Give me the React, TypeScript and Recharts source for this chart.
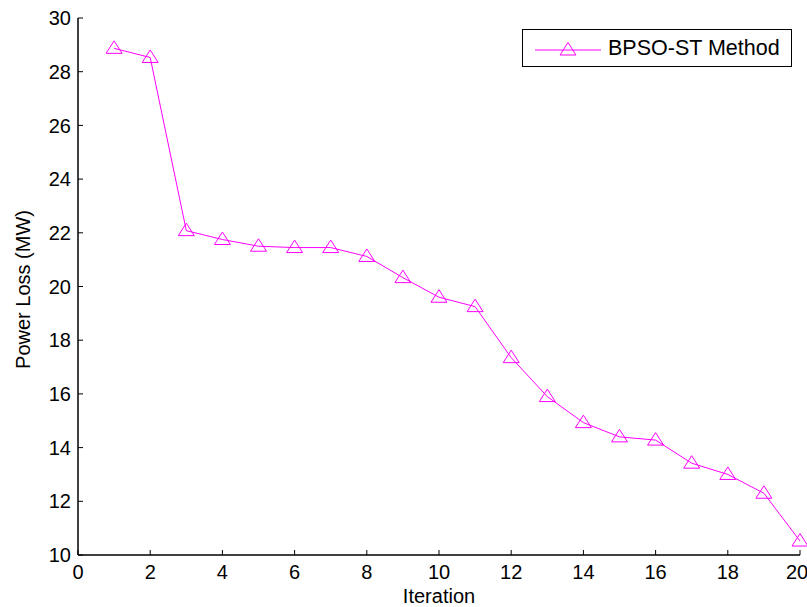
import { LineChart, Line, XAxis, YAxis, Legend } from 'recharts'

const iterations = [1, 2, 3, 4, 5, 6, 7, 8, 9, 10, 11, 12, 13, 14, 15, 16, 17, 18, 19, 20]
const powerLoss = [28.87, 28.53, 22.08, 21.75, 21.5, 21.45, 21.45, 21.12, 20.33, 19.6, 19.25, 17.35, 15.9, 14.93, 14.4, 14.28, 13.42, 13.0, 12.3, 10.52]
const xTicks = [0, 2, 4, 6, 8, 10, 12, 14, 16, 18, 20]
const yTicks = [10, 12, 14, 16, 18, 20, 22, 24, 26, 28, 30]
const seriesName = 'BPSO-ST Method'

const data = iterations.map((it, i) => ({ iteration: it, loss: powerLoss[i] }))

const MAGENTA = '#FF00FF'
const FONT = '"Liberation Sans", Arial, sans-serif'
const axisLine = { stroke: '#000', strokeWidth: 1.5 }
const tickLine = { stroke: '#000', strokeWidth: 1 }
const tickText = { fill: '#000', fontSize: 20, fontFamily: FONT }

const triPath = (cx: number, cy: number) =>
  `M${cx},${cy - 7.5} L${cx + 8},${cy + 5} L${cx - 8},${cy + 5} Z`

function TriangleDot(props: any) {
  const { cx, cy, index } = props
  if (cx == null || cy == null) return <g key={`t-${index}`} />
  return <path key={`t-${index}`} d={triPath(cx, cy)} fill="none" stroke={MAGENTA} strokeWidth={1} />
}

function LegendBox() {
  return (
    <div
      style={{
        border: '1.5px solid #000',
        height: 38,
        boxSizing: 'border-box',
        display: 'flex',
        alignItems: 'center',
        background: '#fff',
        fontFamily: FONT,
        fontSize: 21.5,
        color: '#000',
      }}
    >
      <svg width={66} height={20} style={{ marginLeft: 12 }}>
        <line x1={0} y1={12} x2={66} y2={12} stroke={MAGENTA} strokeWidth={1} />
        <path d={triPath(33, 12)} fill="none" stroke={MAGENTA} strokeWidth={1} />
      </svg>
      <span style={{ marginLeft: 7 }}>{seriesName}</span>
    </div>
  )
}

export default function App() {
  return (
    <div style={{ position: 'absolute', left: 0, top: 0, background: '#fff' }}>
      <LineChart width={807} height={607} data={data} margin={{ top: 18, right: 7, bottom: 2, left: 18 }}>
        <XAxis
          dataKey="iteration"
          type="number"
          domain={[0, 20]}
          ticks={xTicks}
          height={50}
          tickSize={-5}
          tickMargin={15}
          axisLine={axisLine}
          tickLine={tickLine}
          tick={tickText}
          label={{ value: 'Iteration', position: 'insideBottom', offset: 2, fill: '#000', fontSize: 20, fontFamily: FONT }}
        />
        <XAxis
          xAxisId="top"
          orientation="top"
          dataKey="iteration"
          type="number"
          domain={[0, 20]}
          ticks={xTicks}
          height={0}
          tickSize={-5}
          tickFormatter={() => ''}
          axisLine={axisLine}
          tickLine={tickLine}
        />
        <YAxis
          type="number"
          domain={[10, 30]}
          ticks={yTicks}
          width={60}
          tickSize={-5}
          tickMargin={12}
          axisLine={axisLine}
          tickLine={tickLine}
          tick={tickText}
          label={{ value: 'Power Loss (MW)', angle: -90, position: 'center', dx: -25, dy: 3, fill: '#000', fontSize: 20, fontFamily: FONT }}
        />
        <YAxis
          yAxisId="right"
          orientation="right"
          type="number"
          domain={[10, 30]}
          ticks={yTicks}
          width={0}
          tickSize={-5}
          tickFormatter={() => ''}
          axisLine={axisLine}
          tickLine={tickLine}
        />
        <Legend
          layout="vertical"
          align="center"
          verticalAlign="middle"
          wrapperStyle={{ position: 'absolute', top: 29, left: 522, width: 270, height: 38 }}
          content={() => <LegendBox />}
        />
        <Line
          dataKey="loss"
          name={seriesName}
          stroke={MAGENTA}
          strokeWidth={1}
          dot={(p: any) => <TriangleDot key={`d-${p.index}`} {...p} />}
          activeDot={false}
          isAnimationActive={false}
        />
      </LineChart>
    </div>
  )
}
